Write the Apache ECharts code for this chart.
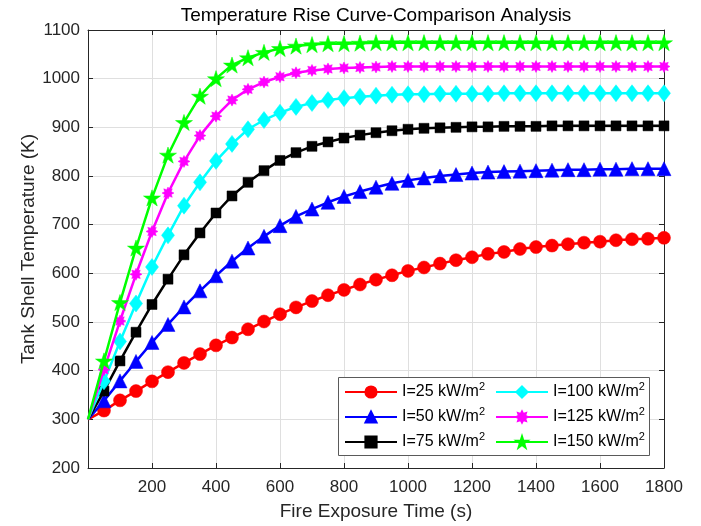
<!DOCTYPE html>
<html>
<head>
<meta charset="utf-8">
<script src="https://cdn.jsdelivr.net/npm/echarts@6/dist/echarts.min.js"></script>
<style>html,body{margin:0;padding:0;background:#fff}#c{width:701px;height:526px}</style>
</head>
<body>
<div id="c"></div>
<script>
const titleText = 'Temperature Rise Curve-Comparison Analysis';
const xName = 'Fire Exposure Time (s)';
const yName = 'Tank Shell Temperature (K)';
const seriesNames = ['I=25 kW/m2', 'I=50 kW/m2', 'I=75 kW/m2', 'I=100 kW/m2', 'I=125 kW/m2', 'I=150 kW/m2'];
const time = [0, 50, 100, 150, 200, 250, 300, 350, 400, 450, 500, 550, 600, 650, 700, 750, 800, 850, 900, 950,
  1000, 1050, 1100, 1150, 1200, 1250, 1300, 1350, 1400, 1450, 1500, 1550, 1600, 1650, 1700, 1750, 1800];
const tI25 = [300, 318, 339, 358, 378, 397, 416, 434, 452, 468, 485, 501, 516, 530, 543, 555, 566, 577, 587, 596,
  605, 612, 620, 627, 633, 640, 644, 650, 654, 657, 660, 663, 665, 668, 670, 671, 673];
const tI50 = [300, 338, 379, 419, 458, 495, 531, 564, 595, 625, 652, 676, 698, 717, 732, 746, 758, 768, 777, 785,
  791, 796, 800, 803, 806, 808, 809, 810, 811, 812, 813, 813, 814, 814, 815, 815, 815];
const tI75 = [300, 358, 420, 479, 536, 588, 638, 683, 724, 759, 787, 811, 832, 848, 861, 870, 878, 884, 889, 893,
  896, 898, 899, 900, 901, 901, 902, 902, 902, 903, 903, 903, 903, 903, 903, 903, 903];
const tI100 = [300, 378, 460, 538, 613, 678, 739, 787, 831, 866, 896, 915, 930, 942, 950, 956, 960, 963, 965, 967,
  968, 968, 969, 969, 969, 969, 970, 970, 970, 970, 970, 970, 970, 970, 970, 970, 970];
const tI125 = [300, 402, 502, 598, 686, 765, 830, 883, 923, 956, 978, 993, 1004, 1012, 1017, 1020, 1022, 1023, 1024, 1025,
  1025, 1025, 1025, 1025, 1025, 1025, 1025, 1025, 1025, 1025, 1025, 1025, 1025, 1025, 1025, 1025, 1025];
const tI150 = [300, 420, 540, 652, 755, 843, 910, 964, 1000, 1028, 1043, 1054, 1062, 1067, 1070, 1072, 1072, 1073, 1074, 1074,
  1074, 1074, 1074, 1074, 1074, 1074, 1074, 1074, 1074, 1074, 1074, 1074, 1074, 1074, 1074, 1074, 1074];

const FONT = '"Liberation Sans", Arial, Helvetica, sans-serif';
const TXT = '#262626';
const starPath = 'path://M50 0 L61.2 34.5 L97.6 34.5 L68.2 55.9 L79.4 90.5 L50 69.1 L20.6 90.5 L31.8 55.9 L2.4 34.5 L38.8 34.5 Z';
const asteriskPath = 'path://M50 0 L61.5 22.3 L85.4 14.6 L77.7 38.5 L100 50 L77.7 61.5 L85.4 85.4 L61.5 77.7 L50 100 L38.5 77.7 L14.6 85.4 L22.3 61.5 L0 50 L22.3 38.5 L14.6 14.6 L38.5 22.3 Z';

const allValues = [tI25, tI50, tI75, tI100, tI125, tI150];
const styles = [
  {color: '#ff0000', symbol: 'circle', size: 13},
  {color: '#0000ff', symbol: 'triangle', size: 14},
  {color: '#000000', symbol: 'rect', size: 10},
  {color: '#00ffff', symbol: 'diamond', size: [13, 17]},
  {color: '#ff00ff', symbol: asteriskPath, size: 12},
  {color: '#00ff00', symbol: starPath, size: 17}
];

const series = allValues.map((vals, k) => ({
  name: seriesNames[k],
  type: 'line',
  xAxisIndex: 0,
  yAxisIndex: 0,
  data: time.map((t, i) => i === 0 ? {value: [t, vals[i]], symbol: 'none'} : [t, vals[i]]),
  symbol: styles[k].symbol,
  symbolSize: styles[k].size,
  symbolKeepAspect: true,
  showAllSymbol: true,
  lineStyle: {color: styles[k].color, width: 2.5},
  itemStyle: {color: styles[k].color, borderColor: styles[k].color, borderWidth: 0.5},
  emphasis: {disabled: true},
  animation: false,
  z: 2 + k
}));

const legendCommon = {
  orient: 'vertical',
  itemWidth: 52,
  itemHeight: 14,
  itemGap: 6,
  padding: 0,
  z: 20,
  selectedMode: false,
  formatter: n => n.replace(/m2$/, 'm{s|2}'),
  textStyle: {
    fontFamily: FONT, fontSize: 16, color: '#000',
    rich: {s: {fontFamily: FONT, fontSize: 11, color: '#000', padding: [0, 0, 11, 0]}}
  }
};

const plain = v => String(v);

const chart = echarts.init(document.getElementById('c'), null, {renderer: 'canvas'});
chart.setOption({
  backgroundColor: '#fff',
  animation: false,
  title: {
    text: titleText, left: 376, top: 6, padding: 0, textAlign: 'center',
    textStyle: {fontFamily: FONT, fontSize: 19, fontWeight: 'normal', color: '#000'}
  },
  grid: {left: 88, right: 37, top: 30, bottom: 55, containLabel: false},
  xAxis: [
    {
      type: 'value', min: 0, max: 1800, interval: 200, position: 'bottom',
      name: xName, nameLocation: 'middle', nameGap: 34, nameMoveOverlap: false,
      nameTextStyle: {fontFamily: FONT, fontSize: 19, color: TXT},
      axisLine: {show: true, onZero: false, lineStyle: {color: TXT, width: 1}},
      axisTick: {show: true, inside: true, length: 5, lineStyle: {color: TXT}},
      axisLabel: {fontFamily: FONT, fontSize: 17, color: TXT, margin: 11, showMinLabel: false, formatter: plain},
      splitLine: {show: true, lineStyle: {color: '#dfdfdf', width: 1}}
    },
    {
      type: 'value', min: 0, max: 1800, interval: 200, position: 'top',
      axisLine: {show: true, onZero: false, lineStyle: {color: TXT, width: 1}},
      axisTick: {show: true, inside: true, length: 5, lineStyle: {color: TXT}},
      axisLabel: {show: false},
      splitLine: {show: false}
    }
  ],
  yAxis: [
    {
      type: 'value', min: 200, max: 1100, interval: 100, position: 'left',
      name: yName, nameLocation: 'middle', nameGap: 50, nameRotate: 90, nameMoveOverlap: false,
      nameTextStyle: {fontFamily: FONT, fontSize: 19, color: TXT},
      axisLine: {show: true, onZero: false, lineStyle: {color: TXT, width: 1}},
      axisTick: {show: true, inside: true, length: 5, lineStyle: {color: TXT}},
      axisLabel: {fontFamily: FONT, fontSize: 17, color: TXT, margin: 8, formatter: plain},
      splitLine: {show: true, lineStyle: {color: '#dfdfdf', width: 1}}
    },
    {
      type: 'value', min: 200, max: 1100, interval: 100, position: 'right',
      axisLine: {show: true, onZero: false, lineStyle: {color: TXT, width: 1}},
      axisTick: {show: true, inside: true, length: 5, lineStyle: {color: TXT}},
      axisLabel: {show: false},
      splitLine: {show: false}
    }
  ],
  legend: [
    Object.assign({}, legendCommon, {data: seriesNames.slice(0, 3), left: 344, top: 381}),
    Object.assign({}, legendCommon, {data: seriesNames.slice(3, 6), left: 495, top: 381})
  ],
  graphic: [{
    type: 'rect', z: 10, silent: true,
    shape: {x: 338.5, y: 377.5, width: 311, height: 78},
    style: {fill: '#fff', stroke: '#5a5a5a', lineWidth: 1}
  }],
  series: series
});
</script>
</body>
</html>
